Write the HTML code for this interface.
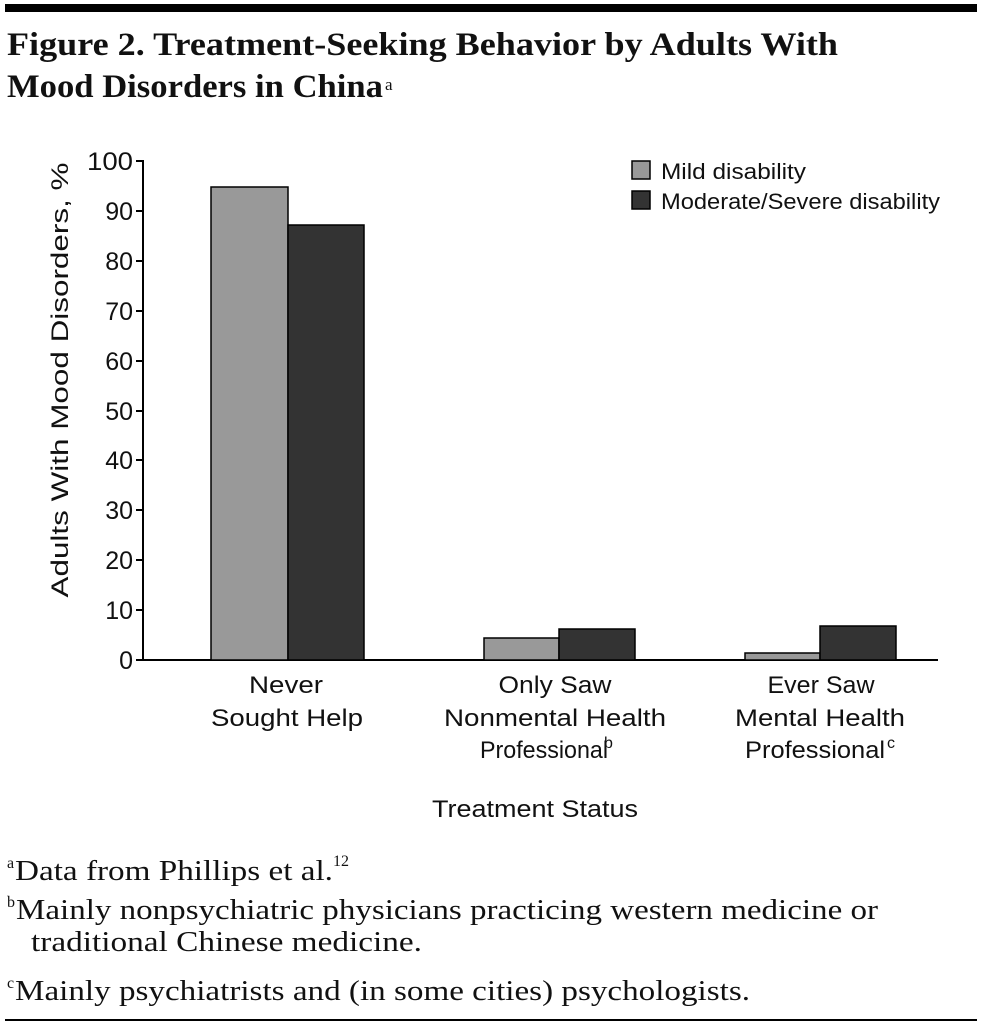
<!DOCTYPE html>
<html><head><meta charset="utf-8"><style>
html,body{margin:0;padding:0;background:#fff;}
svg{display:block;}
</style></head><body>
<svg width="982" height="1027" viewBox="0 0 982 1027" xmlns="http://www.w3.org/2000/svg">
<rect x="5" y="4" width="972" height="8" fill="#000"/>
<g font-family="Liberation Serif, serif" fill="#111">
<text x="7" y="55" font-size="33" font-weight="bold" textLength="831" lengthAdjust="spacingAndGlyphs">Figure 2. Treatment-Seeking Behavior by Adults With</text>
<text x="7" y="97" font-size="33" font-weight="bold" textLength="376" lengthAdjust="spacingAndGlyphs">Mood Disorders in China</text>
<text x="385" y="90" font-size="17">a</text>
<text x="7" y="868" font-size="16">a</text>
<text x="15" y="880" font-size="28" textLength="318" lengthAdjust="spacingAndGlyphs">Data from Phillips et al.</text>
<text x="333" y="866" font-size="16">12</text>
<text x="7" y="907" font-size="16">b</text>
<text x="16" y="919" font-size="28" textLength="862" lengthAdjust="spacingAndGlyphs">Mainly nonpsychiatric physicians practicing western medicine or</text>
<text x="31" y="951" font-size="28" textLength="391" lengthAdjust="spacingAndGlyphs">traditional Chinese medicine.</text>
<text x="7" y="988" font-size="16">c</text>
<text x="15" y="1000" font-size="28" textLength="735" lengthAdjust="spacingAndGlyphs">Mainly psychiatrists and (in some cities) psychologists.</text>
</g>
<rect x="5" y="1019" width="972" height="2" fill="#000"/>
<g font-family="Liberation Sans, sans-serif" fill="#111">
<g stroke="#000" stroke-width="2">
<line x1="143" y1="160" x2="143" y2="661"/>
<line x1="142" y1="660" x2="938" y2="660"/>
<line x1="136" y1="161" x2="143" y2="161"/><line x1="136" y1="211" x2="143" y2="211"/>
<line x1="136" y1="261" x2="143" y2="261"/><line x1="136" y1="311" x2="143" y2="311"/>
<line x1="136" y1="361" x2="143" y2="361"/><line x1="136" y1="411" x2="143" y2="411"/>
<line x1="136" y1="460" x2="143" y2="460"/><line x1="136" y1="510" x2="143" y2="510"/>
<line x1="136" y1="560" x2="143" y2="560"/><line x1="136" y1="610" x2="143" y2="610"/>
<line x1="136" y1="660" x2="143" y2="660"/>
</g>
<g font-size="25" text-anchor="end">
<text x="133" y="170" textLength="46" lengthAdjust="spacingAndGlyphs">100</text><text x="133" y="220">90</text><text x="133" y="270">80</text>
<text x="133" y="320">70</text><text x="133" y="370">60</text><text x="133" y="420">50</text>
<text x="133" y="469">40</text><text x="133" y="519">30</text><text x="133" y="569">20</text>
<text x="133" y="619">10</text><text x="133" y="669">0</text>
</g>
<text transform="translate(68,380) rotate(-90)" font-size="24" text-anchor="middle" textLength="435" lengthAdjust="spacingAndGlyphs">Adults With Mood Disorders, %</text>
<g stroke="#000" stroke-width="1.5">
<rect x="211" y="187" width="77" height="473" fill="#999"/>
<rect x="288" y="225" width="76" height="435" fill="#333"/>
<rect x="484" y="638" width="75" height="22" fill="#999"/>
<rect x="559" y="629" width="76" height="31" fill="#333"/>
<rect x="745" y="653" width="75" height="7" fill="#999"/>
<rect x="820" y="626" width="76" height="34" fill="#333"/>
<rect x="632" y="161" width="18" height="18" fill="#999"/>
<rect x="632" y="191" width="18" height="18" fill="#333"/>
</g>
<g font-size="22">
<text x="661" y="179" textLength="145" lengthAdjust="spacingAndGlyphs">Mild disability</text>
<text x="661" y="209" textLength="279" lengthAdjust="spacingAndGlyphs">Moderate/Severe disability</text>
</g>
<g font-size="24" text-anchor="middle">
<text x="286" y="693" textLength="74" lengthAdjust="spacingAndGlyphs">Never</text>
<text x="287" y="726" textLength="152" lengthAdjust="spacingAndGlyphs">Sought Help</text>
<text x="555" y="693" textLength="113" lengthAdjust="spacingAndGlyphs">Only Saw</text>
<text x="555" y="726" textLength="222" lengthAdjust="spacingAndGlyphs">Nonmental Health</text>
<text x="544" y="758" textLength="128" lengthAdjust="spacingAndGlyphs">Professional</text>
<text x="604" y="748" font-size="16" text-anchor="start">b</text>
<text x="815" y="758" textLength="140" lengthAdjust="spacingAndGlyphs">Professional</text>
<text x="821" y="693" textLength="107" lengthAdjust="spacingAndGlyphs">Ever Saw</text>
<text x="820" y="726" textLength="170" lengthAdjust="spacingAndGlyphs">Mental Health</text>
<text x="887" y="748" font-size="16" text-anchor="start">c</text>
<text x="535" y="817" textLength="206" lengthAdjust="spacingAndGlyphs">Treatment Status</text>
</g>
</g>
</svg>
</body></html>
